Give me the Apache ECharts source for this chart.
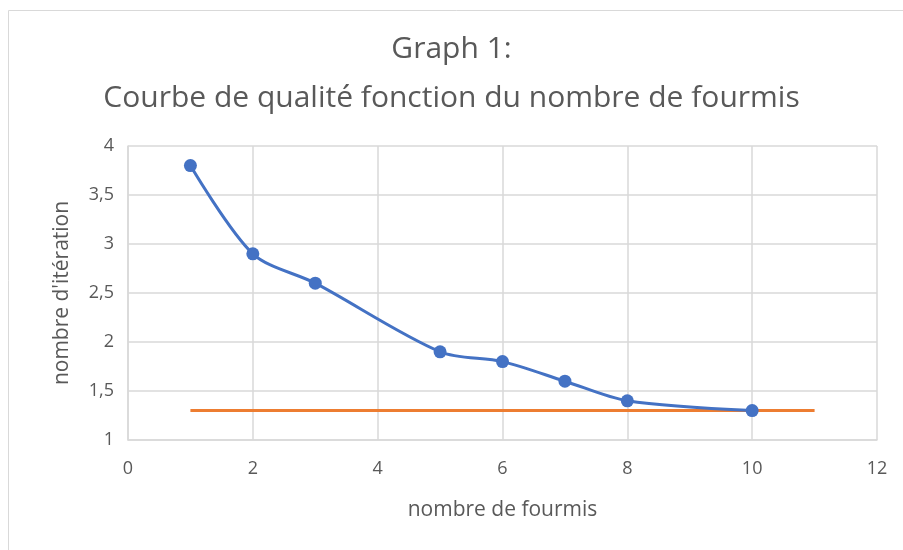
<!DOCTYPE html>
<html><head><meta charset="utf-8">
<script src="https://cdn.jsdelivr.net/npm/echarts@6/dist/echarts.min.js"></script>
<style>html,body{margin:0;padding:0;background:#fff}#c{width:903px;height:550px}</style>
</head><body><div id="c"></div>
<script>
const xValues = [1, 2, 3, 5, 6, 7, 8, 10];
const yValues = [3.8, 2.9, 2.6, 1.9, 1.8, 1.6, 1.4, 1.3];
const refX = [1, 11];
const refY = [1.3, 1.3];
const titleLines = ['Graph 1:', 'Courbe de qualité fonction du nombre de fourmis'];
const xName = 'nombre de fourmis';
const yName = "nombre d'itération";

const chart = echarts.init(document.getElementById('c'));
const font = '"Open Sans", sans-serif';
chart.setOption({
  animation: false,
  graphic: [{type:'rect', shape:{x:8.5,y:10.5,width:900,height:545}, style:{fill:'none', stroke:'#d9d9d9', lineWidth:1}}],
  title: {
    text: titleLines.join('\n'), left: 'center', top: 20,
    textStyle: {fontFamily: font, fontSize: 30, fontWeight: 'normal', color: '#595959', lineHeight: 49}
  },
  grid: {left: 128, right: 26, top: 146, bottom: 110},
  xAxis: {
    type: 'value', min: 0, max: 12, interval: 2,
    name: xName, nameLocation: 'middle', nameGap: 60,
    nameTextStyle: {fontFamily: font, fontSize: 21, color: '#595959'},
    axisLine: {show: true, lineStyle: {color: '#d9d9d9', width: 1.5}},
    axisTick: {show: false},
    axisLabel: {fontFamily: font, fontSize: 18, color: '#595959', margin: 20},
    splitLine: {show: true, lineStyle: {color: '#d9d9d9', width: 1.5}}
  },
  yAxis: {
    type: 'value', min: 1, max: 4, interval: 0.5,
    name: yName, nameLocation: 'middle', nameGap: 55,
    nameTextStyle: {fontFamily: font, fontSize: 21, color: '#595959'},
    axisLine: {show: true, lineStyle: {color: '#d9d9d9', width: 1.5}},
    axisTick: {show: false},
    axisLabel: {fontFamily: font, fontSize: 18, color: '#595959', margin: 14,
      formatter: v => String(v).replace('.', ',')},
    splitLine: {show: true, lineStyle: {color: '#d9d9d9', width: 1.5}}
  },
  series: [
    {type: 'line', data: refX.map((x, i) => [x, refY[i]]), symbol: 'none',
     lineStyle: {color: '#ED7D31', width: 3}, z: 2},
    {type: 'line', data: xValues.map((x, i) => [x, yValues[i]]), smooth: 0.3,
     symbol: 'circle', symbolSize: 13,
     itemStyle: {color: '#4472C4'}, lineStyle: {color: '#4472C4', width: 3}, z: 3}
  ]
});
</script></body></html>
